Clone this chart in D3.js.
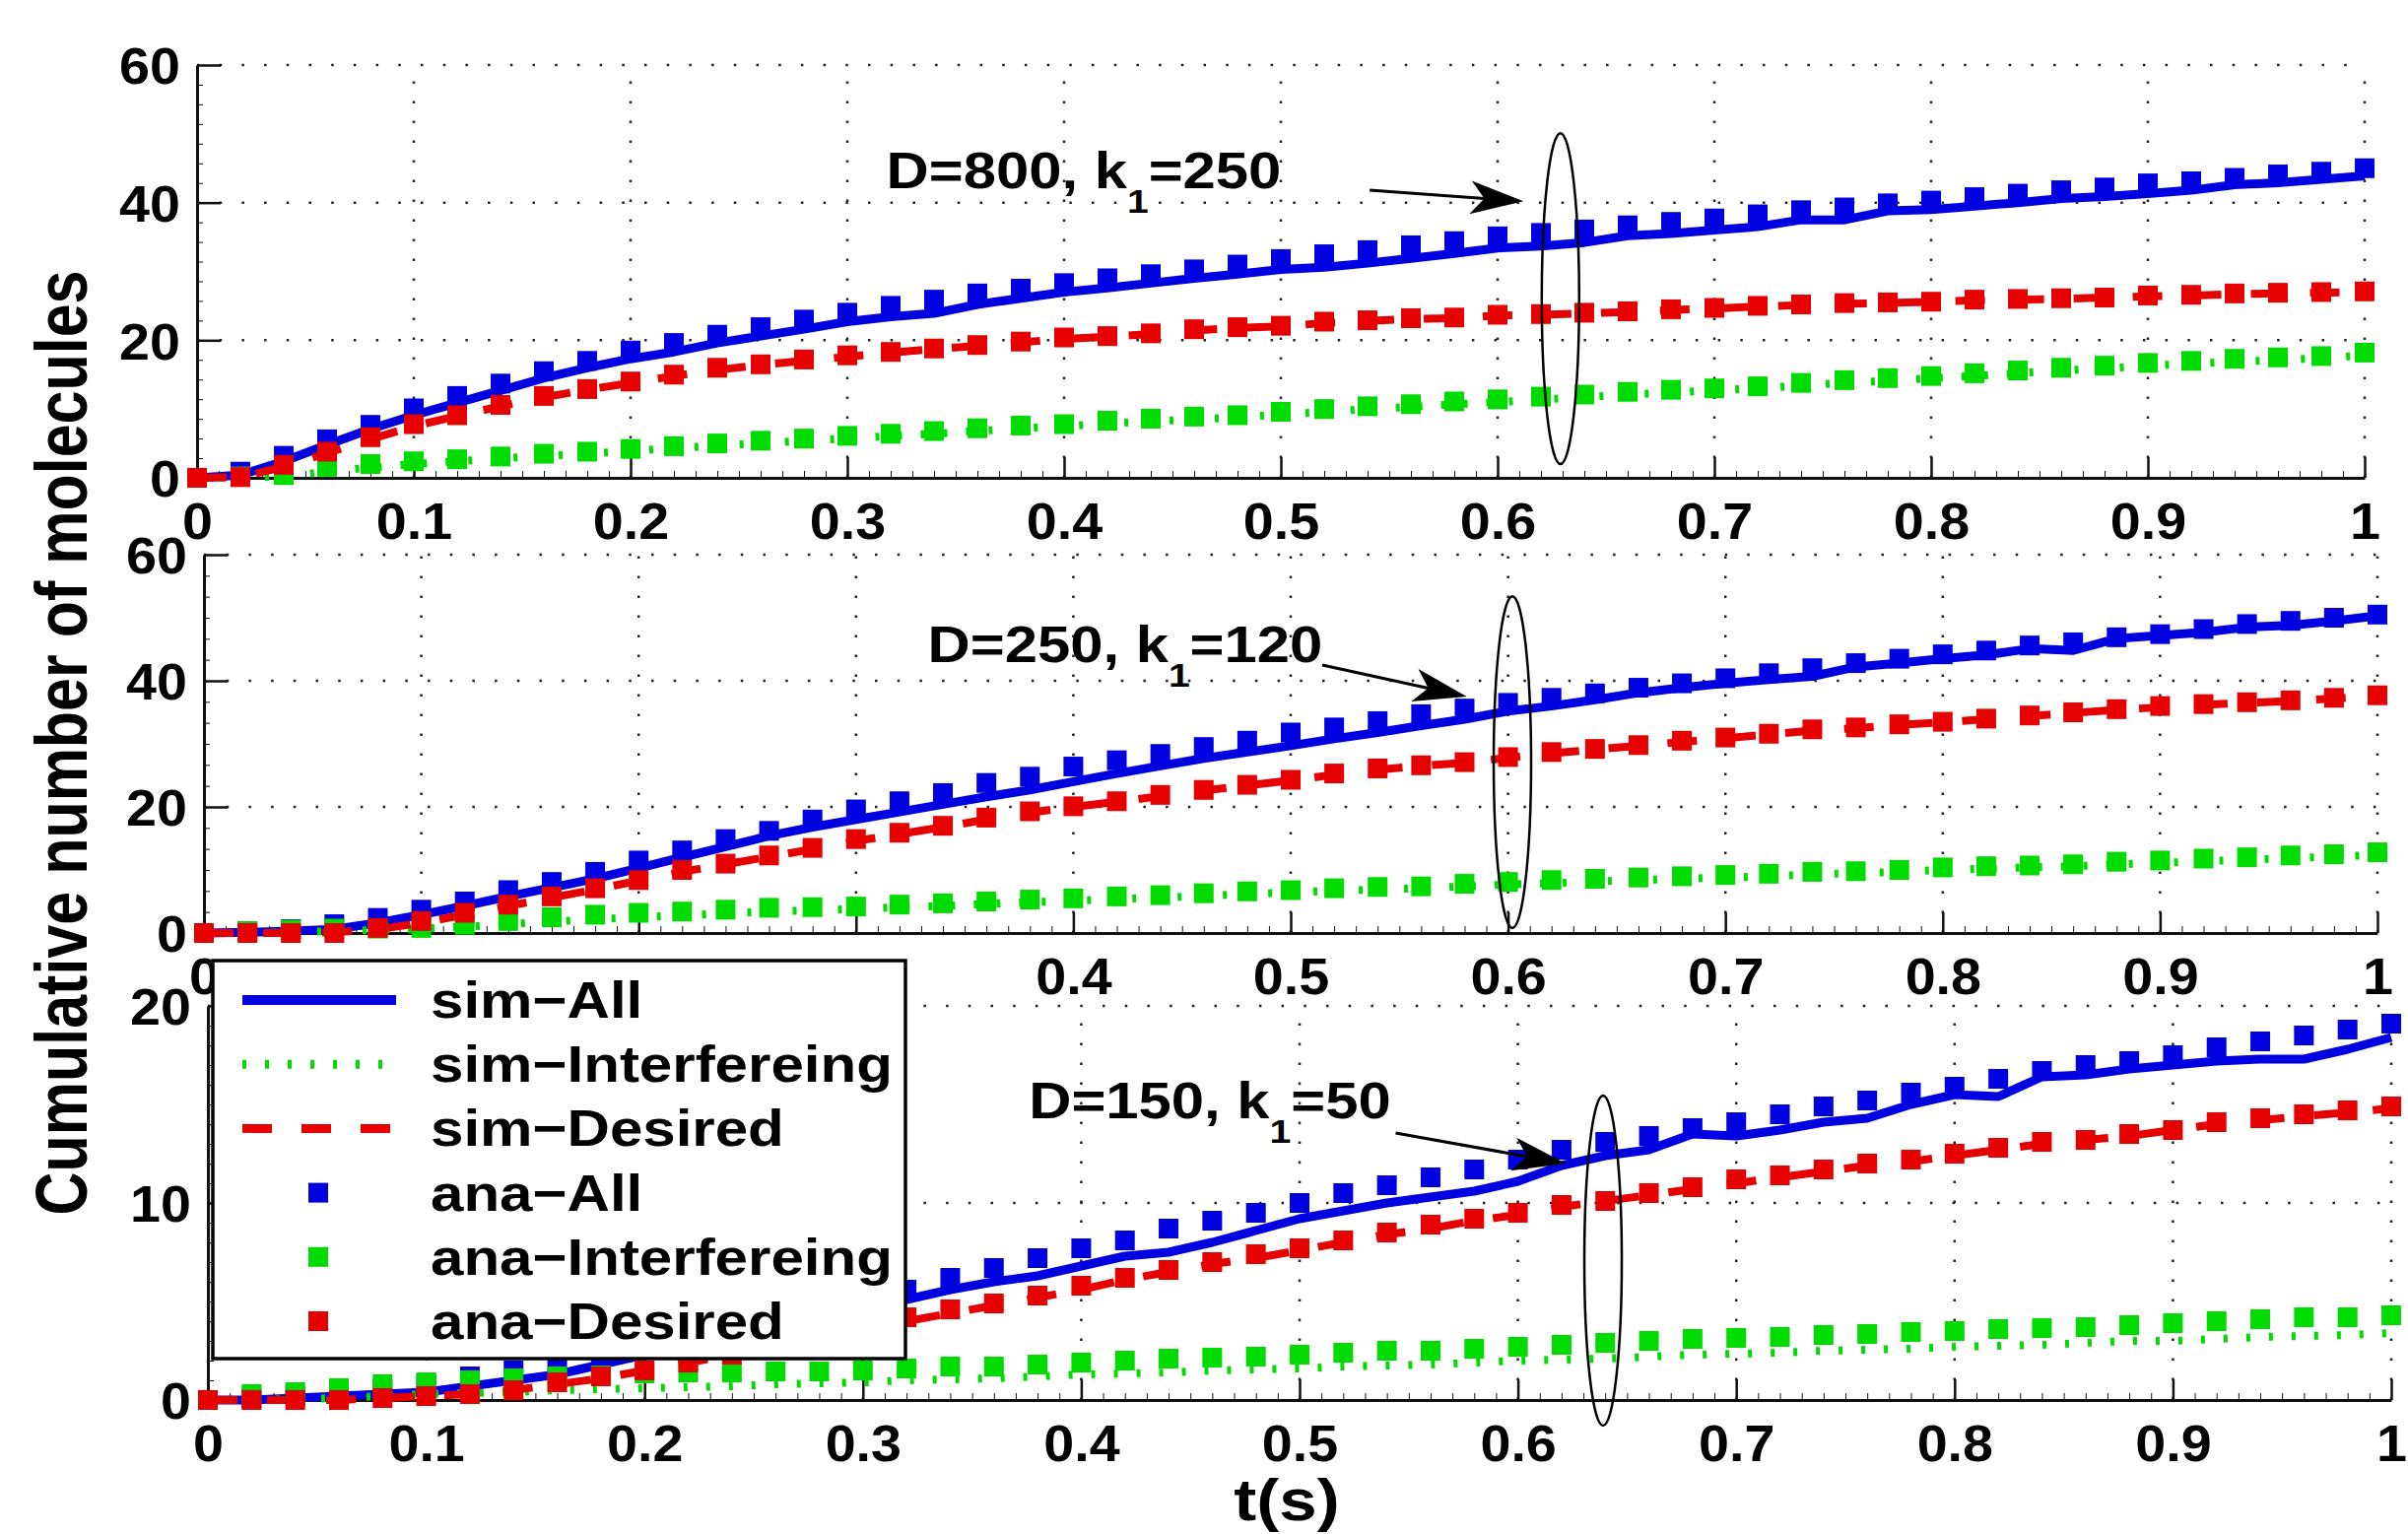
<!DOCTYPE html>
<html>
<head>
<meta charset="utf-8">
<script src="https://cdnjs.cloudflare.com/ajax/libs/d3/7.8.5/d3.min.js"></script>
<style>
 body { margin:0; background:#fff; }
 svg text { font-family: "Liberation Sans", Arial, Helvetica, sans-serif; font-weight: bold; fill:#000; }
</style>
</head>
<body>
<script>

/* cumulative molecules, three (D, k1) cases, sim lines + ana markers */

var tt = [0,0.02,0.04,0.06,0.08,0.1,0.12,0.14,0.16,0.18,0.2,0.22,0.24,0.26,0.28,0.3,0.32,0.34,0.36,0.38,0.4,0.42,0.44,0.46,0.48,0.5,0.52,0.54,0.56,0.58,0.6,0.62,0.64,0.66,0.68,0.7,0.72,0.74,0.76,0.78,0.8,0.82,0.84,0.86,0.88,0.9,0.92,0.94,0.96,0.98,1]

var xticks = [0,0.1,0.2,0.3,0.4,0.5,0.6,0.7,0.8,0.9,1]
var yticks60 = [0,20,40,60]
var yticks20 = [0,10,20]

// D=800, k1=250
var simAll1 = [0,0.4,2.4,4.8,7.1,9.1,10.9,12.7,14.5,16.0,17.3,18.3,19.6,20.6,21.6,22.7,23.4,23.9,25.2,26.1,27.0,27.6,28.3,29.0,29.6,30.3,30.6,31.2,31.9,32.6,33.4,33.7,34.2,35.2,35.5,36.0,36.5,37.5,37.5,38.8,39.0,39.5,40.0,40.6,40.9,41.3,41.8,42.6,42.9,43.4,43.9]
var simInt1 = [0,0,0.2,0.9,1.5,2.0,2.4,2.8,3.2,3.5,3.9,4.3,4.7,5.0,5.4,5.7,6.1,6.4,6.8,7.2,7.5,7.9,8.2,8.5,8.8,9.2,9.6,10.0,10.3,10.7,11.0,11.4,11.7,12.1,12.4,12.7,13.0,13.4,13.8,14.1,14.5,14.8,15.2,15.6,15.9,16.3,16.6,16.9,17.1,17.4,17.8]
var simDes1 = [0,0.1,1.6,3.6,5.6,7.5,9.0,10.4,11.7,12.8,13.8,14.8,15.7,16.4,17.0,17.6,18.2,18.7,19.2,19.7,20.2,20.5,20.9,21.4,21.8,22.0,22.5,22.8,23.1,23.2,23.6,23.7,23.9,24.1,24.4,24.6,24.9,25.1,25.3,25.4,25.6,25.8,25.9,26.0,26.2,26.4,26.5,26.7,26.8,26.9,27.0]
var anaAll1 = [0,0.9,3.2,5.6,7.7,10.1,11.9,13.7,15.5,17.0,18.5,19.6,20.8,21.9,23.0,24.0,25.0,25.9,26.8,27.5,28.3,29.0,29.6,30.3,31.0,31.8,32.5,33.1,33.8,34.4,35.1,35.6,36.1,36.7,37.2,37.7,38.3,38.9,39.3,39.9,40.3,40.8,41.3,41.8,42.2,42.8,43.1,43.6,44.1,44.5,45.0]
var anaInt1 = [0,0.2,0.4,1.6,2.0,2.4,2.7,3.1,3.5,3.8,4.2,4.6,5.0,5.4,5.7,6.1,6.4,6.8,7.2,7.6,7.8,8.3,8.6,8.9,9.1,9.6,10.0,10.4,10.7,11.1,11.4,11.8,12.1,12.5,12.8,13.0,13.3,13.8,14.2,14.5,14.8,15.2,15.6,16.0,16.3,16.7,17.0,17.3,17.5,17.7,18.2]
var anaDes1 = [0,0.1,1.9,3.8,5.9,7.8,9.1,10.6,11.9,12.9,14.0,15.0,16.0,16.5,17.2,17.8,18.3,18.8,19.3,19.8,20.4,20.6,21.0,21.6,21.9,22.1,22.7,22.9,23.2,23.3,23.7,23.8,24.0,24.2,24.5,24.7,25.0,25.2,25.4,25.5,25.6,25.9,26.0,26.1,26.2,26.5,26.6,26.8,26.9,27.0,27.1]

// D=250, k1=120
var simAll2 = [0,0.1,0.3,0.6,1.6,2.9,4.3,5.8,7.2,8.6,10.3,12.0,13.7,15.4,16.8,18.0,19.2,20.4,21.6,22.7,24.0,25.3,26.5,27.7,28.7,29.7,30.8,31.8,32.9,33.9,35.2,36.0,37.0,38.1,38.9,39.6,40.2,40.7,42.2,42.8,43.5,44.1,45.1,44.8,46.7,47.2,47.7,48.5,48.8,49.5,50.3]
var simInt2 = [0,0,0.1,0.3,0.5,0.7,1.0,1.4,1.8,2.2,2.5,2.8,3.1,3.4,3.6,3.8,4.1,4.3,4.6,4.9,5.1,5.4,5.6,5.9,6.2,6.4,6.7,6.9,7.1,7.4,7.7,7.9,8.2,8.4,8.6,8.8,9.0,9.3,9.5,9.7,10.0,10.2,10.4,10.6,10.9,11.1,11.4,11.6,11.9,12.1,12.4]
var simDes2 = [0,0,0,0.1,0.6,1.6,2.9,4.3,5.6,6.9,8.3,9.7,10.9,12.1,13.3,14.6,15.7,16.8,18.0,19.1,20.0,20.8,21.7,22.6,23.4,24.2,25.1,25.9,26.5,27.0,27.8,28.5,29.1,29.7,30.3,30.9,31.5,32.1,32.5,33.0,33.4,33.9,34.4,34.9,35.4,35.8,36.2,36.5,36.8,37.2,37.6]
var anaAll2 = [0,0.3,0.6,1.4,2.4,3.7,5.0,6.8,8.1,9.7,11.5,13.1,14.9,16.2,18.0,19.6,20.9,22.2,23.8,24.8,26.4,27.4,28.4,29.5,30.5,31.8,32.6,33.6,34.7,35.6,36.5,37.3,38.0,38.9,39.6,40.4,41.2,42.0,42.8,43.5,44.2,44.8,45.6,46.1,46.9,47.4,48.2,49.0,49.5,50.0,50.5]
var anaInt2 = [0,0.3,0.5,0.7,0.7,0.8,1.3,1.9,2.5,2.9,3.2,3.4,3.7,4.0,4.1,4.2,4.5,4.7,5.0,5.3,5.5,5.8,6.0,6.3,6.6,6.8,7.1,7.3,7.4,7.8,8.1,8.4,8.6,8.8,9.0,9.2,9.4,9.7,9.8,10.0,10.4,10.6,10.7,10.9,11.3,11.5,11.8,12.0,12.3,12.5,12.8]
var anaDes2 = [0,0,0,0,0.8,1.9,3.2,4.5,5.8,7.1,8.4,10.0,11.0,12.3,13.5,14.9,15.9,17.0,18.3,19.3,20.1,20.9,21.9,22.7,23.5,24.3,25.3,26.1,26.6,27.1,27.9,28.7,29.2,29.8,30.5,31.0,31.6,32.3,32.6,33.1,33.5,34.0,34.5,35.0,35.5,36.0,36.3,36.6,36.9,37.3,37.7]

// D=150, k1=50
var simAll3 = [0,0,0.1,0.2,0.3,0.4,0.7,1.0,1.3,1.8,2.3,2.8,3.3,3.8,4.2,4.7,5.1,5.6,6.0,6.3,6.8,7.3,7.5,8.0,8.6,9.2,9.6,10.0,10.3,10.6,11.1,11.9,12.4,12.7,13.5,13.4,13.7,14.1,14.3,15.0,15.5,15.4,16.4,16.5,16.8,17.0,17.2,17.3,17.3,17.8,18.4]
var simInt3 = [0,0,0.05,0.1,0.2,0.3,0.35,0.4,0.5,0.55,0.6,0.65,0.7,0.8,0.85,0.9,1.0,1.05,1.1,1.2,1.3,1.35,1.4,1.5,1.55,1.6,1.7,1.75,1.8,1.9,2.0,2.05,2.1,2.2,2.3,2.35,2.4,2.5,2.55,2.6,2.7,2.75,2.8,2.9,3.0,3.0,3.1,3.2,3.25,3.3,3.4]
var simDes3 = [0,0,0,0,0.1,0.2,0.3,0.5,0.8,1.1,1.5,1.9,2.3,2.7,3.1,3.6,4.0,4.4,4.8,5.2,5.6,6.1,6.5,6.9,7.2,7.6,8.0,8.4,8.7,9.1,9.4,9.8,10.1,10.4,10.7,11.0,11.3,11.6,11.9,12.1,12.4,12.7,13.0,13.2,13.4,13.7,14.0,14.2,14.4,14.6,14.8]
var anaAll3 = [0,0.1,0.2,0.3,0.5,0.8,1.2,1.5,1.8,2.2,2.6,3.1,3.6,4.1,4.6,5.1,5.6,6.2,6.7,7.2,7.7,8.1,8.7,9.1,9.5,10.0,10.5,10.9,11.3,11.7,12.2,12.7,13.1,13.4,13.8,14.1,14.5,14.9,15.2,15.6,15.9,16.3,16.7,17.0,17.2,17.5,17.9,18.2,18.5,18.8,19.1]
var anaInt3 = [0,0.3,0.4,0.6,0.8,0.9,1.0,1.1,1.2,1.25,1.35,1.4,1.4,1.45,1.45,1.5,1.6,1.7,1.7,1.8,1.9,2.0,2.1,2.15,2.2,2.3,2.4,2.5,2.5,2.6,2.7,2.8,2.9,3.0,3.1,3.15,3.2,3.3,3.35,3.45,3.5,3.6,3.65,3.7,3.8,3.9,4.0,4.1,4.2,4.2,4.3]
var anaDes3 = [0,0,0,0,0.1,0.2,0.3,0.5,0.9,1.2,1.5,1.9,2.3,2.8,3.2,3.7,4.2,4.6,4.9,5.3,5.8,6.2,6.6,7.0,7.4,7.7,8.1,8.5,8.9,9.2,9.5,9.9,10.1,10.5,10.8,11.2,11.4,11.7,12.0,12.2,12.5,12.8,13.1,13.2,13.5,13.7,14.1,14.3,14.5,14.7,14.9]

var legendLabels = ['sim\u2212All','sim\u2212Interfereing','sim\u2212Desired','ana\u2212All','ana\u2212Interfereing','ana\u2212Desired']

// annotations, in data units: text [x, baseline y], arrow [x0,y0,x1,y1], ellipse [x, ylo, yhi]
var noteText  = [['D=800, k','=250'],['D=250, k','=120'],['D=150, k','=50']]
var noteAt    = [[0.318,42.1],[0.333,43.0],[0.376,14.3]]
var noteArrow = [[0.541,41.8,0.612,40.2],[0.5145,42.5,0.581,37.5],[0.544,13.55,0.622,12.0]]
var noteOval  = [[0.629,2.0,50.1],[0.602,0.8,53.4],[0.639,-1.3,15.45]]

var BLUE = '#0000e0', GREEN = '#00dc00', RED = '#e60000'

var styles = {
  all: { color: BLUE,  width: 9, dash: null },
  int: { color: GREEN, width: 8, dash: '4,19' },
  des: { color: RED,   width: 8, dash: '30,30' }
}

// hidden: tick labels the legend box sits on
var panels = [
  { left:200, right:2400, top:66,   bottom:485,  ymax:60, yticks:yticks60, ysub:7, hidden:[],
    sim:[simAll1,simInt1,simDes1], ana:[anaAll1,anaInt1,anaDes1] },
  { left:207, right:2413, top:563,  bottom:947,  ymax:60, yticks:yticks60, ysub:6, hidden:[0.1,0.2,0.3],
    sim:[simAll2,simInt2,simDes2], ana:[anaAll2,anaInt2,anaDes2] },
  { left:211, right:2427, top:1021, bottom:1421, ymax:20, yticks:yticks20, ysub:10, hidden:[],
    sim:[simAll3,simInt3,simDes3], ana:[anaAll3,anaInt3,anaDes3] }
]

var svg = d3.select('body').append('svg').attr('width', 2444).attr('height', 1557)

function wtext(g, x, y, s, size, sx, anchor) {
  return g.append('text')
    .attr('transform', 'translate(' + x + ',' + y + ') scale(' + sx + ',1)')
    .attr('font-size', size)
    .attr('text-anchor', anchor || 'start')
    .text(s)
}

function arrow(g, x0, y0, x1, y1) {
  var a = Math.atan2(y1 - y0, x1 - x0), L = 54, W = 17, N = 40
  var ca = Math.cos(a), sa = Math.sin(a)
  function pt(b, s) { return [x1 - b*ca - s*sa, y1 - b*sa + s*ca] }
  var n = pt(N, 0)
  g.append('line').attr('x1', x0).attr('y1', y0).attr('x2', n[0]).attr('y2', n[1])
    .attr('stroke', '#000').attr('stroke-width', 3)
  g.append('path').attr('d', 'M' + [x1, y1] + 'L' + pt(L, W) + 'L' + n + 'L' + pt(L, -W) + 'Z')
    .attr('fill', '#000')
}

var keys = ['all', 'int', 'des']

panels.forEach(function(p, k) {
  var x = d3.scaleLinear().domain([0, 1]).range([p.left, p.right])
  var y = d3.scaleLinear().domain([0, p.ymax]).range([p.bottom, p.top])
  var g = svg.append('g')

  // grid
  g.selectAll('.hg').data(p.yticks.slice(1)).enter().append('line')
    .attr('x1', p.left).attr('x2', p.right).attr('y1', y).attr('y2', y)
    .attr('stroke', '#222').attr('stroke-width', 2.5).attr('stroke-dasharray', '2.5,20.2')
  g.selectAll('.vg').data(xticks.slice(1)).enter().append('line')
    .attr('x1', x).attr('x2', x).attr('y1', p.bottom).attr('y2', p.top)
    .attr('stroke', '#222').attr('stroke-width', 2.5).attr('stroke-dasharray', '2.5,17.5')

  // minor ticks
  var xmin = d3.range(0, 101).map(function(i) { return i / 100 })
  g.append('g').attr('transform', 'translate(0,' + p.bottom + ')')
    .call(d3.axisBottom(x).tickValues(xmin).tickSize(-7).tickSizeOuter(0).tickFormat(''))
    .call(function(s) { s.select('.domain').remove() })
  var ymin = d3.range(0, p.ysub * (p.yticks.length - 1) + 1).map(function(i) { return i * p.ymax / (p.ysub * (p.yticks.length - 1)) })
  g.append('g').attr('transform', 'translate(' + p.left + ',0)')
    .call(d3.axisLeft(y).tickValues(ymin).tickSize(-6).tickSizeOuter(0).tickFormat(''))
    .call(function(s) { s.select('.domain').remove() })

  // main axes
  var ax = g.append('g').attr('transform', 'translate(0,' + p.bottom + ')')
    .call(d3.axisBottom(x).tickValues(xticks).tickSize(-21).tickSizeOuter(0).tickPadding(25)
      .tickFormat(function(d) { return p.hidden.indexOf(d) >= 0 ? '' : String(+d.toFixed(1)) }))
  var ay = g.append('g').attr('transform', 'translate(' + p.left + ',0)')
    .call(d3.axisLeft(y).tickValues(p.yticks).tickSize(-24).tickSizeOuter(0).tickPadding(15))
  ;[ax, ay].forEach(function(a) {
    a.select('.domain').attr('stroke', '#111').attr('stroke-width', 3)
    a.selectAll('.tick line').attr('stroke', '#111').attr('stroke-width', 2.5)
    a.selectAll('.tick text').attr('font-size', 52).attr('fill', '#000')
      .attr('font-family', '"Liberation Sans", Arial, sans-serif').attr('font-weight', 'bold')
  })
  ax.selectAll('.tick text').filter(function() { return this.textContent == '' }).remove()
  ax.selectAll('.tick text').attr('transform', 'scale(1.07,1)')
  ay.selectAll('.tick text').attr('dy', '0.36em').attr('transform', function() {
    return 'translate(' + (-15 * 0.07) + ',0) scale(1.07,1)'
  })
  g.selectAll('.tick line').attr('stroke', '#111')

  // sim lines
  var line = d3.line().x(function(d, i) { return x(tt[i]) }).y(function(d) { return y(d) })
  p.sim.forEach(function(s, j) {
    var st = styles[keys[j]]
    g.append('path').datum(s).attr('d', line).attr('fill', 'none')
      .attr('stroke', st.color).attr('stroke-width', st.width)
      .attr('stroke-dasharray', st.dash).attr('stroke-linejoin', 'round')
  })

  // ana markers
  p.ana.forEach(function(s, j) {
    var st = styles[keys[j]]
    g.selectAll('.m' + j).data(s).enter().append('rect')
      .attr('x', function(d, i) { return x(tt[i]) - 10 })
      .attr('y', function(d) { return y(d) - 10 })
      .attr('width', 20).attr('height', 20).attr('fill', st.color)
  })

  // annotation
  var o = noteOval[k]
  g.append('ellipse').attr('cx', x(o[0])).attr('cy', (y(o[1]) + y(o[2])) / 2)
    .attr('rx', 19).attr('ry', (y(o[1]) - y(o[2])) / 2)
    .attr('fill', 'none').attr('stroke', '#000').attr('stroke-width', 2.5)
  var r = noteArrow[k]
  arrow(g, x(r[0]), y(r[1]), x(r[2]), y(r[3]))
  var t = wtext(g, x(noteAt[k][0]), y(noteAt[k][1]), '', 52, 1.15)
  t.append('tspan').text(noteText[k][0])
  t.append('tspan').attr('font-size', 34).attr('dy', 25).text('1')
  t.append('tspan').attr('dy', -25).text(noteText[k][1])
})

// axis titles
var yl = svg.append('g').attr('transform', 'translate(88,754) scale(1.2,1)')
yl.append('text').attr('transform', 'rotate(-90)').attr('text-anchor', 'middle')
  .attr('font-size', 61).text('Cumulative number of molecules')
wtext(svg, 1306, 1543, 't(s)', 60, 1.15, 'middle')

// legend
var lg = svg.append('g')
lg.append('rect').attr('x', 216).attr('y', 975).attr('width', 703).attr('height', 404)
  .attr('fill', '#fff').attr('stroke', '#000').attr('stroke-width', 3.5)
var rows = d3.scaleLinear().domain([0, 5]).range([1015, 1341])
legendLabels.forEach(function(lab, i) {
  var st = styles[keys[i % 3]]
  var yy = rows(i)
  if (i < 3) {
    lg.append('line').attr('x1', 246).attr('x2', i == 1 ? 390 : 402).attr('y1', yy).attr('y2', yy)
      .attr('stroke', st.color).attr('stroke-width', i == 0 ? 10 : 9)
      .attr('stroke-dasharray', st.dash)
  } else {
    lg.append('rect').attr('x', 313).attr('y', yy - 10).attr('width', 20).attr('height', 20)
      .attr('fill', st.color)
  }
  wtext(lg, 437, yy + 18, lab, 52, 1.155)
})

</script>
</body>
</html>
